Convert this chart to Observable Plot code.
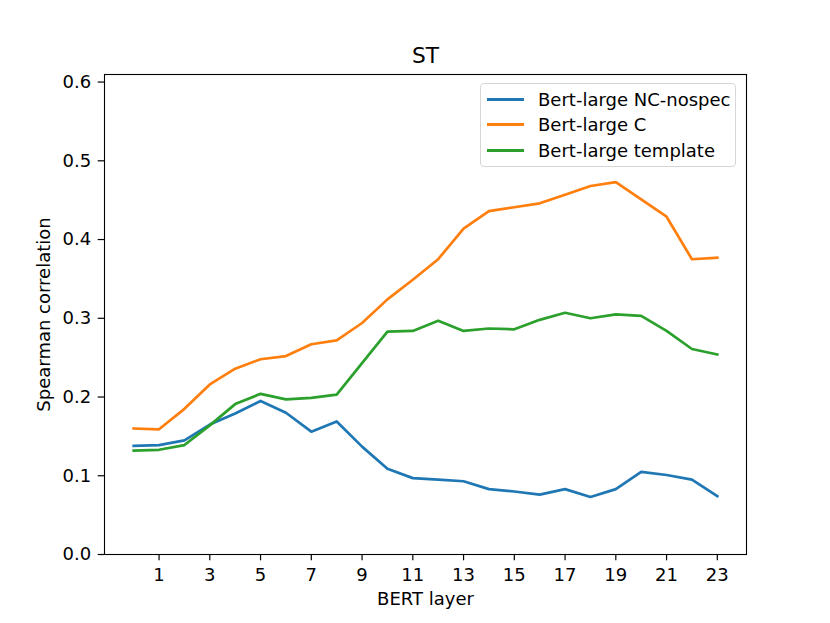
<!DOCTYPE html>
<html>
<head>
<meta charset="utf-8">
<script src="https://cdn.jsdelivr.net/npm/d3@7"></script>
<script src="https://cdn.jsdelivr.net/npm/@observablehq/plot@0.6"></script>
<style>
  html, body { margin: 0; padding: 0; background: #fff; }
  #fig { position: relative; width: 830px; height: 623px; font-family: "DejaVu Sans", sans-serif; }
  #legend { position: absolute; left: 480px; top: 83px; width: 256px; height: 84px;
            border: 1px solid #d6d6d6; border-radius: 4px; background: rgba(255,255,255,0.8); box-sizing: border-box; }
  .row { position: absolute; left: 0; height: 20px; display: flex; align-items: center; font-size: 18px; color: #000; }
  .swatch { display: inline-block; width: 37px; height: 3px; margin-left: 6px; margin-right: 14px; }
</style>
</head>
<body>
<div id="fig"></div>
<script>
const layers = [0,1,2,3,4,5,6,7,8,9,10,11,12,13,14,15,16,17,18,19,20,21,22,23];
const ncNospec = [0.138,0.139,0.145,0.165,0.179,0.195,0.180,0.156,0.169,0.137,0.109,0.097,0.095,0.093,0.083,0.080,0.076,0.083,0.073,0.083,0.105,0.101,0.095,0.074];
const largeC   = [0.160,0.159,0.185,0.216,0.236,0.248,0.252,0.267,0.272,0.294,0.324,0.349,0.375,0.414,0.436,0.441,0.446,0.457,0.468,0.473,0.451,0.429,0.375,0.377];
const template = [0.132,0.133,0.139,0.164,0.191,0.204,0.197,0.199,0.203,0.243,0.283,0.284,0.297,0.284,0.287,0.286,0.298,0.307,0.300,0.305,0.303,0.284,0.261,0.254];
const seriesNames = ["Bert-large NC-nospec", "Bert-large C", "Bert-large template"];
const seriesColors = ["#1f77b4", "#ff7f0e", "#2ca02c"];
const xTicks = [1,3,5,7,9,11,13,15,17,19,21,23];
const yTicks = [0.0,0.1,0.2,0.3,0.4,0.5,0.6];

const seriesValues = [ncNospec, largeC, template];
const data = [];
seriesValues.forEach((vals, i) => {
  vals.forEach((v, j) => data.push({series: seriesNames[i], layer: layers[j], value: v}));
});

const chart = Plot.plot({
  width: 830,
  height: 623,
  marginLeft: 104,
  marginRight: 84,
  marginTop: 74,
  marginBottom: 69,
  style: {fontFamily: "DejaVu Sans, sans-serif", background: "#fff", color: "#000"},
  x: {domain: [-1.15, 24.15]},
  y: {domain: [0, 0.6096]},
  color: {domain: seriesNames, range: seriesColors},
  marks: [
    Plot.line(data, {x: "layer", y: "value", stroke: "series", z: "series", strokeWidth: 2.7, strokeLinejoin: "round", strokeLinecap: "square"}),
    Plot.frame({stroke: "#000", strokeWidth: 1.1}),
    Plot.axisX({ticks: xTicks, tickSize: 6.3, tickPadding: 7, fontSize: 18, label: null, strokeWidth: 1.2}),
    Plot.axisY({ticks: yTicks, tickSize: 6.3, tickPadding: 7, fontSize: 18, label: null, tickFormat: d3.format(".1f"), strokeWidth: 1.2}),
    Plot.text(["BERT layer"], {text: d => d, frameAnchor: "bottom", dy: 45, fontSize: 18, lineAnchor: "middle"}),
    Plot.text(["Spearman correlation"], {text: d => d, frameAnchor: "left", dx: -60, rotate: -90, fontSize: 18, lineAnchor: "middle", textAnchor: "middle"}),
    Plot.text(["ST"], {text: d => d, frameAnchor: "top", dy: -18, fontSize: 21.7, lineAnchor: "middle"})
  ]
});

const fig = document.getElementById("fig");
fig.appendChild(chart);

const legend = document.createElement("div");
legend.id = "legend";
seriesNames.forEach((name, i) => {
  const row = document.createElement("div");
  row.className = "row";
  row.style.top = (5 + i * 25.8) + "px";
  const sw = document.createElement("span");
  sw.className = "swatch";
  sw.style.background = seriesColors[i];
  const label = document.createElement("span");
  label.textContent = name;
  row.appendChild(sw);
  row.appendChild(label);
  legend.appendChild(row);
});
fig.appendChild(legend);
</script>
</body>
</html>
